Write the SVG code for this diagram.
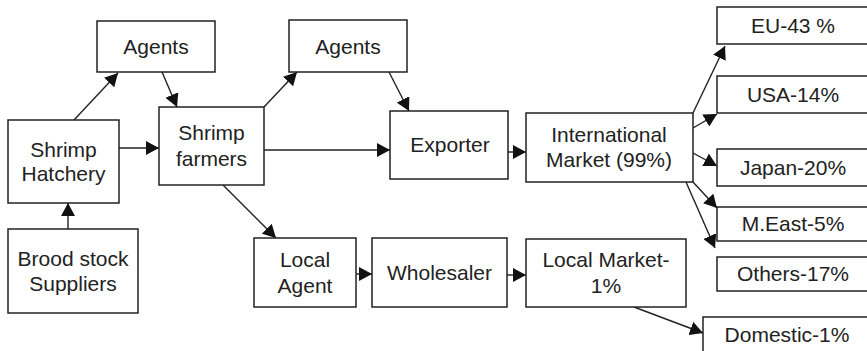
<svg xmlns="http://www.w3.org/2000/svg" width="867" height="351" viewBox="0 0 867 351">
<defs>
<style>
.box{fill:#fff;stroke:#222;stroke-width:1.5}
.t{font-family:"Liberation Sans",Arial,sans-serif;font-size:21px;fill:#222;text-anchor:middle}
.c{stroke:#222;stroke-width:1.4;fill:none;marker-end:url(#ah)}
</style>
<marker id="ah" markerUnits="userSpaceOnUse" markerWidth="14" markerHeight="14" refX="13" refY="7" orient="auto">
<path d="M0,0 L13,7 L0,14 z" fill="#111"/>
</marker>
</defs>
<rect width="867" height="351" fill="#fff"/>
<g id="connectors">
<line class="c" x1="74" y1="120" x2="118" y2="73"/>
<line class="c" x1="162" y1="72" x2="177" y2="107"/>
<line class="c" x1="119" y1="148" x2="159" y2="148"/>
<line class="c" x1="264" y1="107" x2="297" y2="72"/>
<line class="c" x1="389" y1="72" x2="409" y2="111"/>
<line class="c" x1="264" y1="150" x2="390" y2="150"/>
<line class="c" x1="223" y1="185" x2="276" y2="238"/>
<line class="c" x1="68" y1="229" x2="68" y2="203"/>
<line class="c" x1="508" y1="152" x2="526" y2="152"/>
<line class="c" x1="356" y1="274" x2="372" y2="274"/>
<line class="c" x1="507" y1="275" x2="526" y2="275"/>
<line class="c" x1="634" y1="307" x2="703" y2="333"/>
<line class="c" x1="693" y1="113" x2="725" y2="46"/>
<line class="c" x1="693" y1="128" x2="717" y2="114"/>
<line class="c" x1="693" y1="153" x2="717" y2="166"/>
<line class="c" x1="693" y1="182" x2="717" y2="208"/>
<line class="c" x1="686" y1="182" x2="715" y2="248"/>
</g>
<g id="agents1"><rect class="box" x="97" y="21" width="118" height="51"/><text class="t" x="156" y="54">Agents</text></g>
<g id="agents2"><rect class="box" x="289" y="20" width="118" height="52"/><text class="t" x="348" y="54">Agents</text></g>
<g id="hatchery"><rect class="box" x="8" y="120" width="111" height="83"/><text class="t" x="63.5" y="157">Shrimp</text><text class="t" x="63.5" y="181">Hatchery</text></g>
<g id="farmers"><rect class="box" x="159" y="107" width="105" height="78"/><text class="t" x="211.5" y="140">Shrimp</text><text class="t" x="211.5" y="166">farmers</text></g>
<g id="exporter"><rect class="box" x="390" y="111" width="118" height="68"/><text class="t" x="450" y="152">Exporter</text></g>
<g id="intl"><rect class="box" x="526" y="113" width="167" height="69"/><text class="t" x="609" y="142">International</text><text class="t" x="609" y="167">Market (99%)</text></g>
<g id="eu"><rect class="box" x="717" y="7" width="160" height="37"/><text class="t" x="793" y="33">EU-43 %</text></g>
<g id="usa"><rect class="box" x="717" y="76" width="160" height="37"/><text class="t" x="793" y="102">USA-14%</text></g>
<g id="japan"><rect class="box" x="717" y="149" width="160" height="37"/><text class="t" x="793" y="175">Japan-20%</text></g>
<g id="meast"><rect class="box" x="717" y="207" width="160" height="34"/><text class="t" x="793" y="231">M.East-5%</text></g>
<g id="others"><rect class="box" x="717" y="257" width="160" height="34"/><text class="t" x="793" y="281">Others-17%</text></g>
<g id="domestic"><rect class="box" x="703" y="317" width="170" height="40"/><text class="t" x="787" y="342">Domestic-1%</text></g>
<g id="brood"><rect class="box" x="8" y="229" width="130" height="84"/><text class="t" x="73" y="266">Brood stock</text><text class="t" x="73" y="291">Suppliers</text></g>
<g id="localagent"><rect class="box" x="254" y="238" width="102" height="69"/><text class="t" x="305" y="267">Local</text><text class="t" x="305" y="293">Agent</text></g>
<g id="wholesaler"><rect class="box" x="372" y="238" width="135" height="69"/><text class="t" x="439.5" y="280">Wholesaler</text></g>
<g id="localmarket"><rect class="box" x="526" y="239" width="160" height="68"/><text class="t" x="606" y="267">Local Market-</text><text class="t" x="606" y="293">1%</text></g>
</svg>
